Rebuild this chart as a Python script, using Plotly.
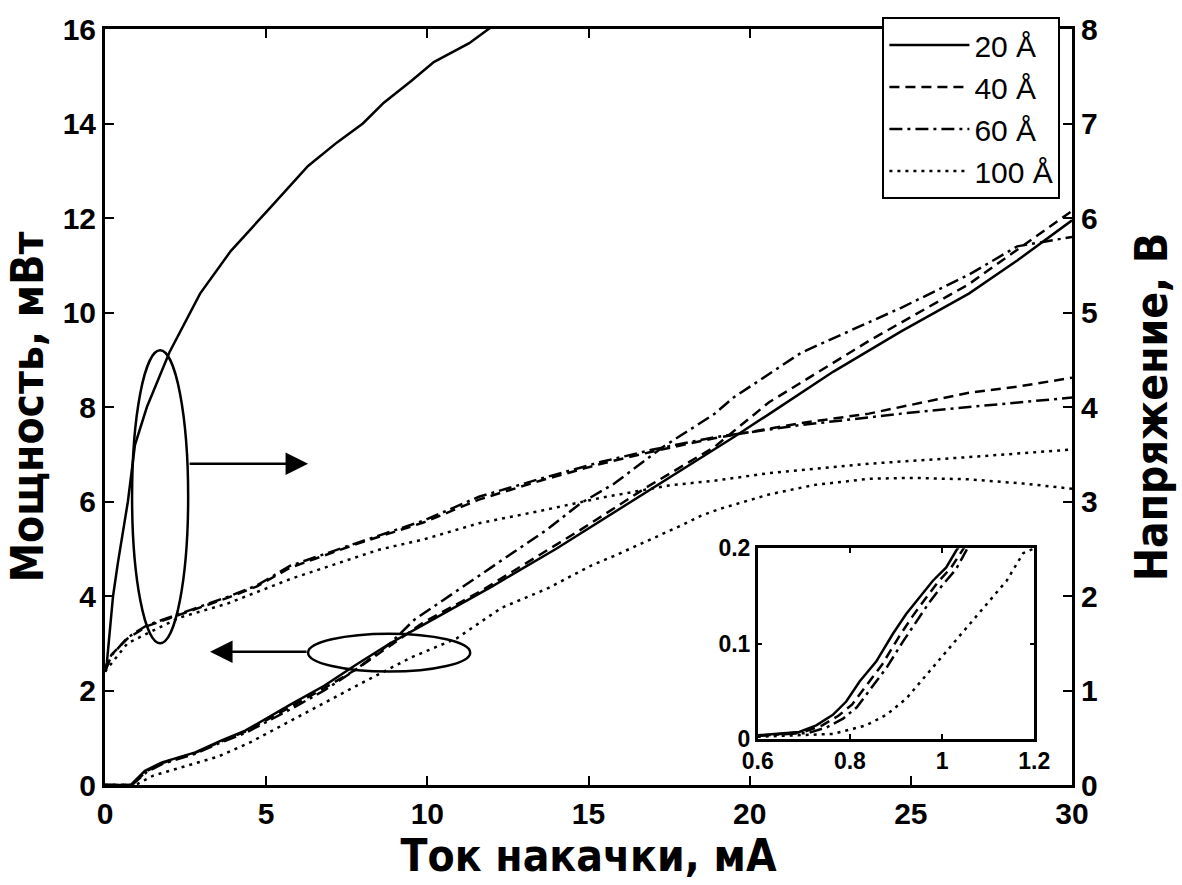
import plotly.graph_objects as go

# ---------------- data ----------------
# Voltage (right axis, V) vs pump current (mA)
v20_x = [0, 0.06, 0.25, 0.4, 0.71, 0.93, 1.3, 1.77, 2.0, 2.95, 3.9, 5.1, 6.3, 7.2, 8.0, 8.65, 9.5, 10.2, 11.3, 11.9, 12.4]
v20_y = [1.2, 1.3, 2.0, 2.35, 3.0, 3.6, 4.0, 4.4, 4.58, 5.2, 5.65, 6.1, 6.55, 6.8, 7.0, 7.22, 7.45, 7.65, 7.85, 8.0, 8.1]

v40_x = [0, 0.2, 0.7, 1.3, 2.3, 3.8, 4.7, 5.75, 7.8, 9.9, 11.6, 13.5, 15.4, 17.0, 18.9, 21.6, 23.7, 24.7, 26.8, 28.4, 30]
v40_y = [1.2, 1.38, 1.55, 1.68, 1.8, 1.98, 2.1, 2.3, 2.55, 2.78, 3.02, 3.22, 3.4, 3.53, 3.67, 3.83, 3.93, 4.0, 4.15, 4.22, 4.31]

v60_x = [0, 0.2, 0.7, 1.3, 2.3, 3.8, 4.7, 5.75, 7.8, 9.9, 11.6, 13.5, 15.4, 17.0, 18.9, 21.6, 23.7, 24.7, 26.8, 28.4, 30]
v60_y = [1.2, 1.37, 1.56, 1.69, 1.81, 1.99, 2.11, 2.32, 2.56, 2.8, 3.05, 3.24, 3.42, 3.55, 3.68, 3.81, 3.89, 3.93, 4.0, 4.05, 4.1]

v100_x = [0, 0.7, 2.3, 3.8, 5.75, 8.5, 9.9, 11.6, 13.5, 15.4, 17.5, 18.9, 20.6, 23.7, 26.8, 30]
v100_y = [1.2, 1.5, 1.77, 1.92, 2.18, 2.49, 2.6, 2.77, 2.9, 3.04, 3.17, 3.22, 3.3, 3.4, 3.47, 3.55]

# Output power (left axis, mW) vs pump current (mA)
p20_x = [0, 0.8, 0.87, 1.24, 1.77, 2.8, 3.6, 4.35, 5.75, 6.8, 7.8, 8.85, 9.9, 12, 14, 15.4, 17.5, 19.5, 20.6, 22.6, 24.7, 26.8, 28.3, 30]
p20_y = [0, 0, 0.05, 0.3, 0.48, 0.69, 0.94, 1.15, 1.7, 2.1, 2.55, 3.0, 3.4, 4.2, 5.0, 5.6, 6.5, 7.36, 7.85, 8.75, 9.6, 10.4, 11.1, 11.95]

p40_x = [0, 0.82, 0.9, 1.3, 1.8, 2.8, 3.6, 4.35, 5.75, 6.8, 7.8, 8.85, 9.9, 11.6, 14.75, 16.8, 18.9, 20.6, 23.7, 26.8, 30]
p40_y = [0, 0, 0.05, 0.3, 0.47, 0.68, 0.92, 1.13, 1.65, 2.05, 2.45, 2.95, 3.45, 4.08, 5.4, 6.3, 7.15, 8.1, 9.4, 10.6, 12.15]

p60_x = [0, 0.84, 0.92, 1.3, 1.8, 2.8, 3.6, 4.35, 5.75, 6.8, 7.8, 8.85, 9.6, 11.6, 13.7, 14.75, 15.8, 17.3, 18.9, 19.5, 21.6, 24.7, 26.8, 28.3, 30]
p60_y = [0, 0, 0.05, 0.28, 0.45, 0.66, 0.9, 1.1, 1.6, 2.0, 2.45, 3.0, 3.5, 4.43, 5.4, 5.96, 6.38, 7.15, 7.85, 8.2, 9.15, 10.1, 10.8, 11.4, 11.6]

p100_x = [0, 0.9, 1.0, 1.5, 2.5, 3.5, 4.5, 6.0, 7.8, 9.5, 10.9, 12.3, 13.7, 15.1, 15.8, 17.9, 18.5, 19.1, 20.6, 22.0, 23.7, 25.0, 26.8, 28.5, 30]
p100_y = [0, 0, 0.02, 0.2, 0.4, 0.6, 0.9, 1.45, 2.1, 2.7, 3.1, 3.75, 4.15, 4.65, 4.85, 5.5, 5.7, 5.85, 6.15, 6.35, 6.48, 6.5, 6.47, 6.38, 6.27]

# Inset: threshold region (mA, mW)
i20_x = [0.6, 0.69, 0.727, 0.763, 0.792, 0.821, 0.857, 0.893, 0.922, 0.951, 0.98, 1.009, 1.031, 1.05]
i20_y = [0.0035, 0.007, 0.014, 0.025, 0.039, 0.06, 0.081, 0.11, 0.131, 0.149, 0.166, 0.18, 0.198, 0.21]
i40_x = [0.6, 0.7, 0.74, 0.775, 0.805, 0.835, 0.87, 0.905, 0.935, 0.962, 0.99, 1.02, 1.045, 1.06]
i40_y = [0.003, 0.007, 0.014, 0.024, 0.036, 0.056, 0.078, 0.106, 0.128, 0.146, 0.164, 0.18, 0.2, 0.21]
i60_x = [0.6, 0.71, 0.75, 0.785, 0.815, 0.845, 0.88, 0.915, 0.945, 0.972, 1.0, 1.03, 1.055, 1.07]
i60_y = [0.003, 0.006, 0.012, 0.021, 0.033, 0.052, 0.075, 0.102, 0.124, 0.143, 0.161, 0.178, 0.2, 0.21]
i100_x = [0.6, 0.69, 0.763, 0.835, 0.879, 0.922, 0.966, 1.009, 1.053, 1.096, 1.14, 1.176, 1.2]
i100_y = [0.002, 0.0035, 0.005, 0.014, 0.025, 0.042, 0.067, 0.092, 0.117, 0.142, 0.166, 0.195, 0.2]

labels = ["20 Å", "40 Å", "60 Å", "100 Å"]
x_ticks = [0, 5, 10, 15, 20, 25, 30]
y_ticks = [0, 2, 4, 6, 8, 10, 12, 14, 16]
y2_ticks = [0, 1, 2, 3, 4, 5, 6, 7, 8]
inset_xticks = [0.6, 0.8, 1, 1.2]
inset_xlabels = ["0.6", "0.8", "1", "1.2"]
inset_yticks = [0, 0.1, 0.2]
inset_ylabels = ["0", "0.1", "0.2"]

# ---------------- styles ----------------
LW = 2.5
dashes = ["solid", "10px,6px", "13px,5px,3px,5px", "3px,5px"]
TICKFONT = dict(family="Liberation Sans, Arial, sans-serif", size=30, color="black", weight="bold")
INSETFONT = dict(family="Liberation Sans, Arial, sans-serif", size=23, color="black", weight="bold")
TITLEFONT = dict(family="Liberation Sans Narrow, DejaVu Sans Condensed, Arial Narrow, Liberation Sans, sans-serif",
                 size=44, color="black")

fig = go.Figure()

volt = [(v20_x, v20_y), (v40_x, v40_y), (v60_x, v60_y), (v100_x, v100_y)]
power = [(p20_x, p20_y), (p40_x, p40_y), (p60_x, p60_y), (p100_x, p100_y)]
inset = [(i20_x, i20_y), (i40_x, i40_y), (i60_x, i60_y), (i100_x, i100_y)]

for k in range(4):
    fig.add_trace(go.Scatter(x=power[k][0], y=power[k][1], mode="lines", name=labels[k],
                             line=dict(color="black", width=LW, dash=dashes[k]),
                             showlegend=True, xaxis="x", yaxis="y"))
for k in range(4):
    fig.add_trace(go.Scatter(x=volt[k][0], y=volt[k][1], mode="lines", name=labels[k],
                             line=dict(color="black", width=LW, dash=dashes[k]),
                             showlegend=False, xaxis="x", yaxis="y2"))
for k in range(4):
    fig.add_trace(go.Scatter(x=inset[k][0], y=inset[k][1], mode="lines", name=labels[k],
                             line=dict(color="black", width=LW, dash=dashes[k]),
                             showlegend=False, xaxis="x3", yaxis="y3"))

axis_common = dict(showline=True, linecolor="black", linewidth=3, ticks="inside", ticklen=9,
                   tickwidth=2, tickcolor="black", showgrid=False, zeroline=False)
inset_common = {**axis_common, "linewidth": 2.5, "ticklen": 5}

fig.update_layout(
    width=1182, height=885,
    margin=dict(l=105, r=110, t=18, b=100),
    paper_bgcolor="white", plot_bgcolor="white",
    xaxis=dict(**axis_common, range=[0, 30], tickvals=x_ticks, mirror="ticks",
               tickfont=TICKFONT, domain=[0, 1],
               title=dict(text="<b>Ток накачки, мА</b>", font=TITLEFONT, standoff=8)),
    yaxis=dict(**axis_common, range=[0, 16], tickvals=y_ticks, mirror=True,
               tickfont=TICKFONT,
               title=dict(text="<b>Мощность, мВт</b>", font=TITLEFONT, standoff=6)),
    yaxis2=dict(**axis_common, range=[0, 8], tickvals=y2_ticks, overlaying="y", side="right",
                tickfont=TICKFONT,
                title=dict(text="<b>Напряжение, В</b>", font=TITLEFONT, standoff=40)),
    xaxis3=dict(**inset_common, range=[0.6, 1.2],
                tickvals=inset_xticks, ticktext=["<b>" + t + "</b>" for t in inset_xlabels],
                mirror="ticks", domain=[0.675, 0.961], anchor="y3", tickfont=INSETFONT),
    yaxis3=dict(**inset_common, range=[0, 0.2],
                tickvals=inset_yticks, ticktext=["<b>" + t + "</b>" for t in inset_ylabels],
                mirror="ticks", domain=[0.0613, 0.313], anchor="x3", tickfont=INSETFONT),
    legend=dict(x=0.988, xanchor="right", y=1.016, yanchor="top",
                bgcolor="white", bordercolor="black", borderwidth=2,
                font=dict(family="Liberation Sans, Arial, sans-serif", size=30, color="black"),
                itemwidth=80, tracegroupgap=0),
    font=dict(family="Liberation Sans, Arial, sans-serif", color="black"),
)

# ellipses marking the curve groups
fig.add_shape(type="circle", xref="x", yref="y", x0=0.84, x1=2.58, y0=3.0, y1=9.2,
              line=dict(color="black", width=2.5))
fig.add_shape(type="circle", xref="x", yref="y", x0=6.3, x1=11.33, y0=2.4, y1=3.2,
              line=dict(color="black", width=2.5))

# arrows pointing to the relevant axes
fig.add_annotation(x=6.3, y=6.8, ax=2.58, ay=6.8, xref="x", yref="y", axref="x", ayref="y",
                   showarrow=True, arrowhead=2, arrowsize=1.8, arrowwidth=2.5, arrowcolor="black", text="")
fig.add_annotation(x=3.26, y=2.82, ax=6.3, ay=2.82, xref="x", yref="y", axref="x", ayref="y",
                   showarrow=True, arrowhead=2, arrowsize=1.8, arrowwidth=2.5, arrowcolor="black", text="")

fig.write_html("out.html")
